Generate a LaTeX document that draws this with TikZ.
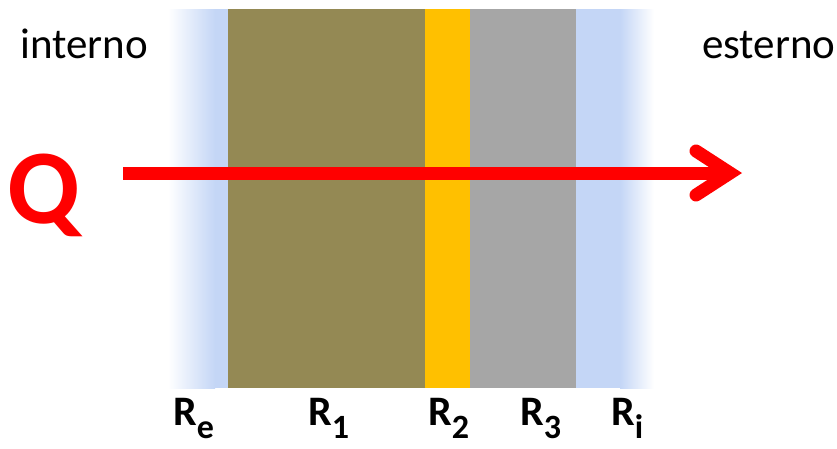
\documentclass[tikz,border=0pt]{standalone}
\usepackage{fontspec}
\setmainfont{Carlito}
\usetikzlibrary{arrows.meta, positioning}
\definecolor{airBlue}{RGB}{196,214,246}
\definecolor{brickBrown}{RGB}{148,137,84}
\definecolor{foamYellow}{RGB}{255,192,0}
\definecolor{plasterGrey}{RGB}{166,166,166}
\definecolor{heatRed}{RGB}{255,0,0}
\tikzset{
    % Layers
    layer/.style={draw=none},
    % Texts
    side/.style={font=\fontsize{43}{47}\selectfont, inner sep=0pt, anchor=base west},
    res/.style={font=\fontsize{42}{46}\selectfont\bfseries, inner sep=0pt, anchor=base west},
    % Heat flow
    heatflow/.style={heatRed, line width=13pt,
                     -{Straight Barb[length=34pt, width=44pt, line cap=round, line join=miter]}}
}
\newcommand{\resname}[1]{R\raisebox{-13pt}{\fontsize{34}{38}\selectfont #1}}

\begin{document}
\begin{tikzpicture}[x=1pt, y=-1pt]
\useasboundingbox (0,0) rectangle (837,448);

% wall layers
\shade[layer, left color=white, right color=airBlue] (168,9) rectangle (215,388);
\fill[layer, airBlue] (214.5,9) rectangle (229,388);
\fill[layer, brickBrown] (228,9) rectangle (426,388);
\fill[layer, foamYellow] (425,9) rectangle (471,388);
\fill[layer, plasterGrey] (470,9) rectangle (577,388);
\fill[layer, airBlue] (576,9) rectangle (620.5,388);
\shade[layer, left color=airBlue, right color=white] (620,9) rectangle (654,388);

% sides
\node[side] (inside) at (20,58) {interno};
\node[side] (outside) at (702,58) {esterno};

% heat flow
\node[font=\fontsize{106}{110}\selectfont\bfseries, text=heatRed, inner sep=0pt, anchor=base west] (q) at (7,223) {Q};
\coordinate (qstart) at (123,173);
\coordinate (qend) at (742,173);
\draw[heatflow] (qstart) -- (qend);

% resistances
\node[res] (re) at (173,425) {\resname{e}};
\node[res] (r1) at (308,425) {\resname{1}};
\node[res] (r2) at (428,425) {\resname{2}};
\node[res] (r3) at (520,425) {\resname{3}};
\node[res] (ri) at (611,425) {\resname{i}};

\end{tikzpicture}
\end{document}
